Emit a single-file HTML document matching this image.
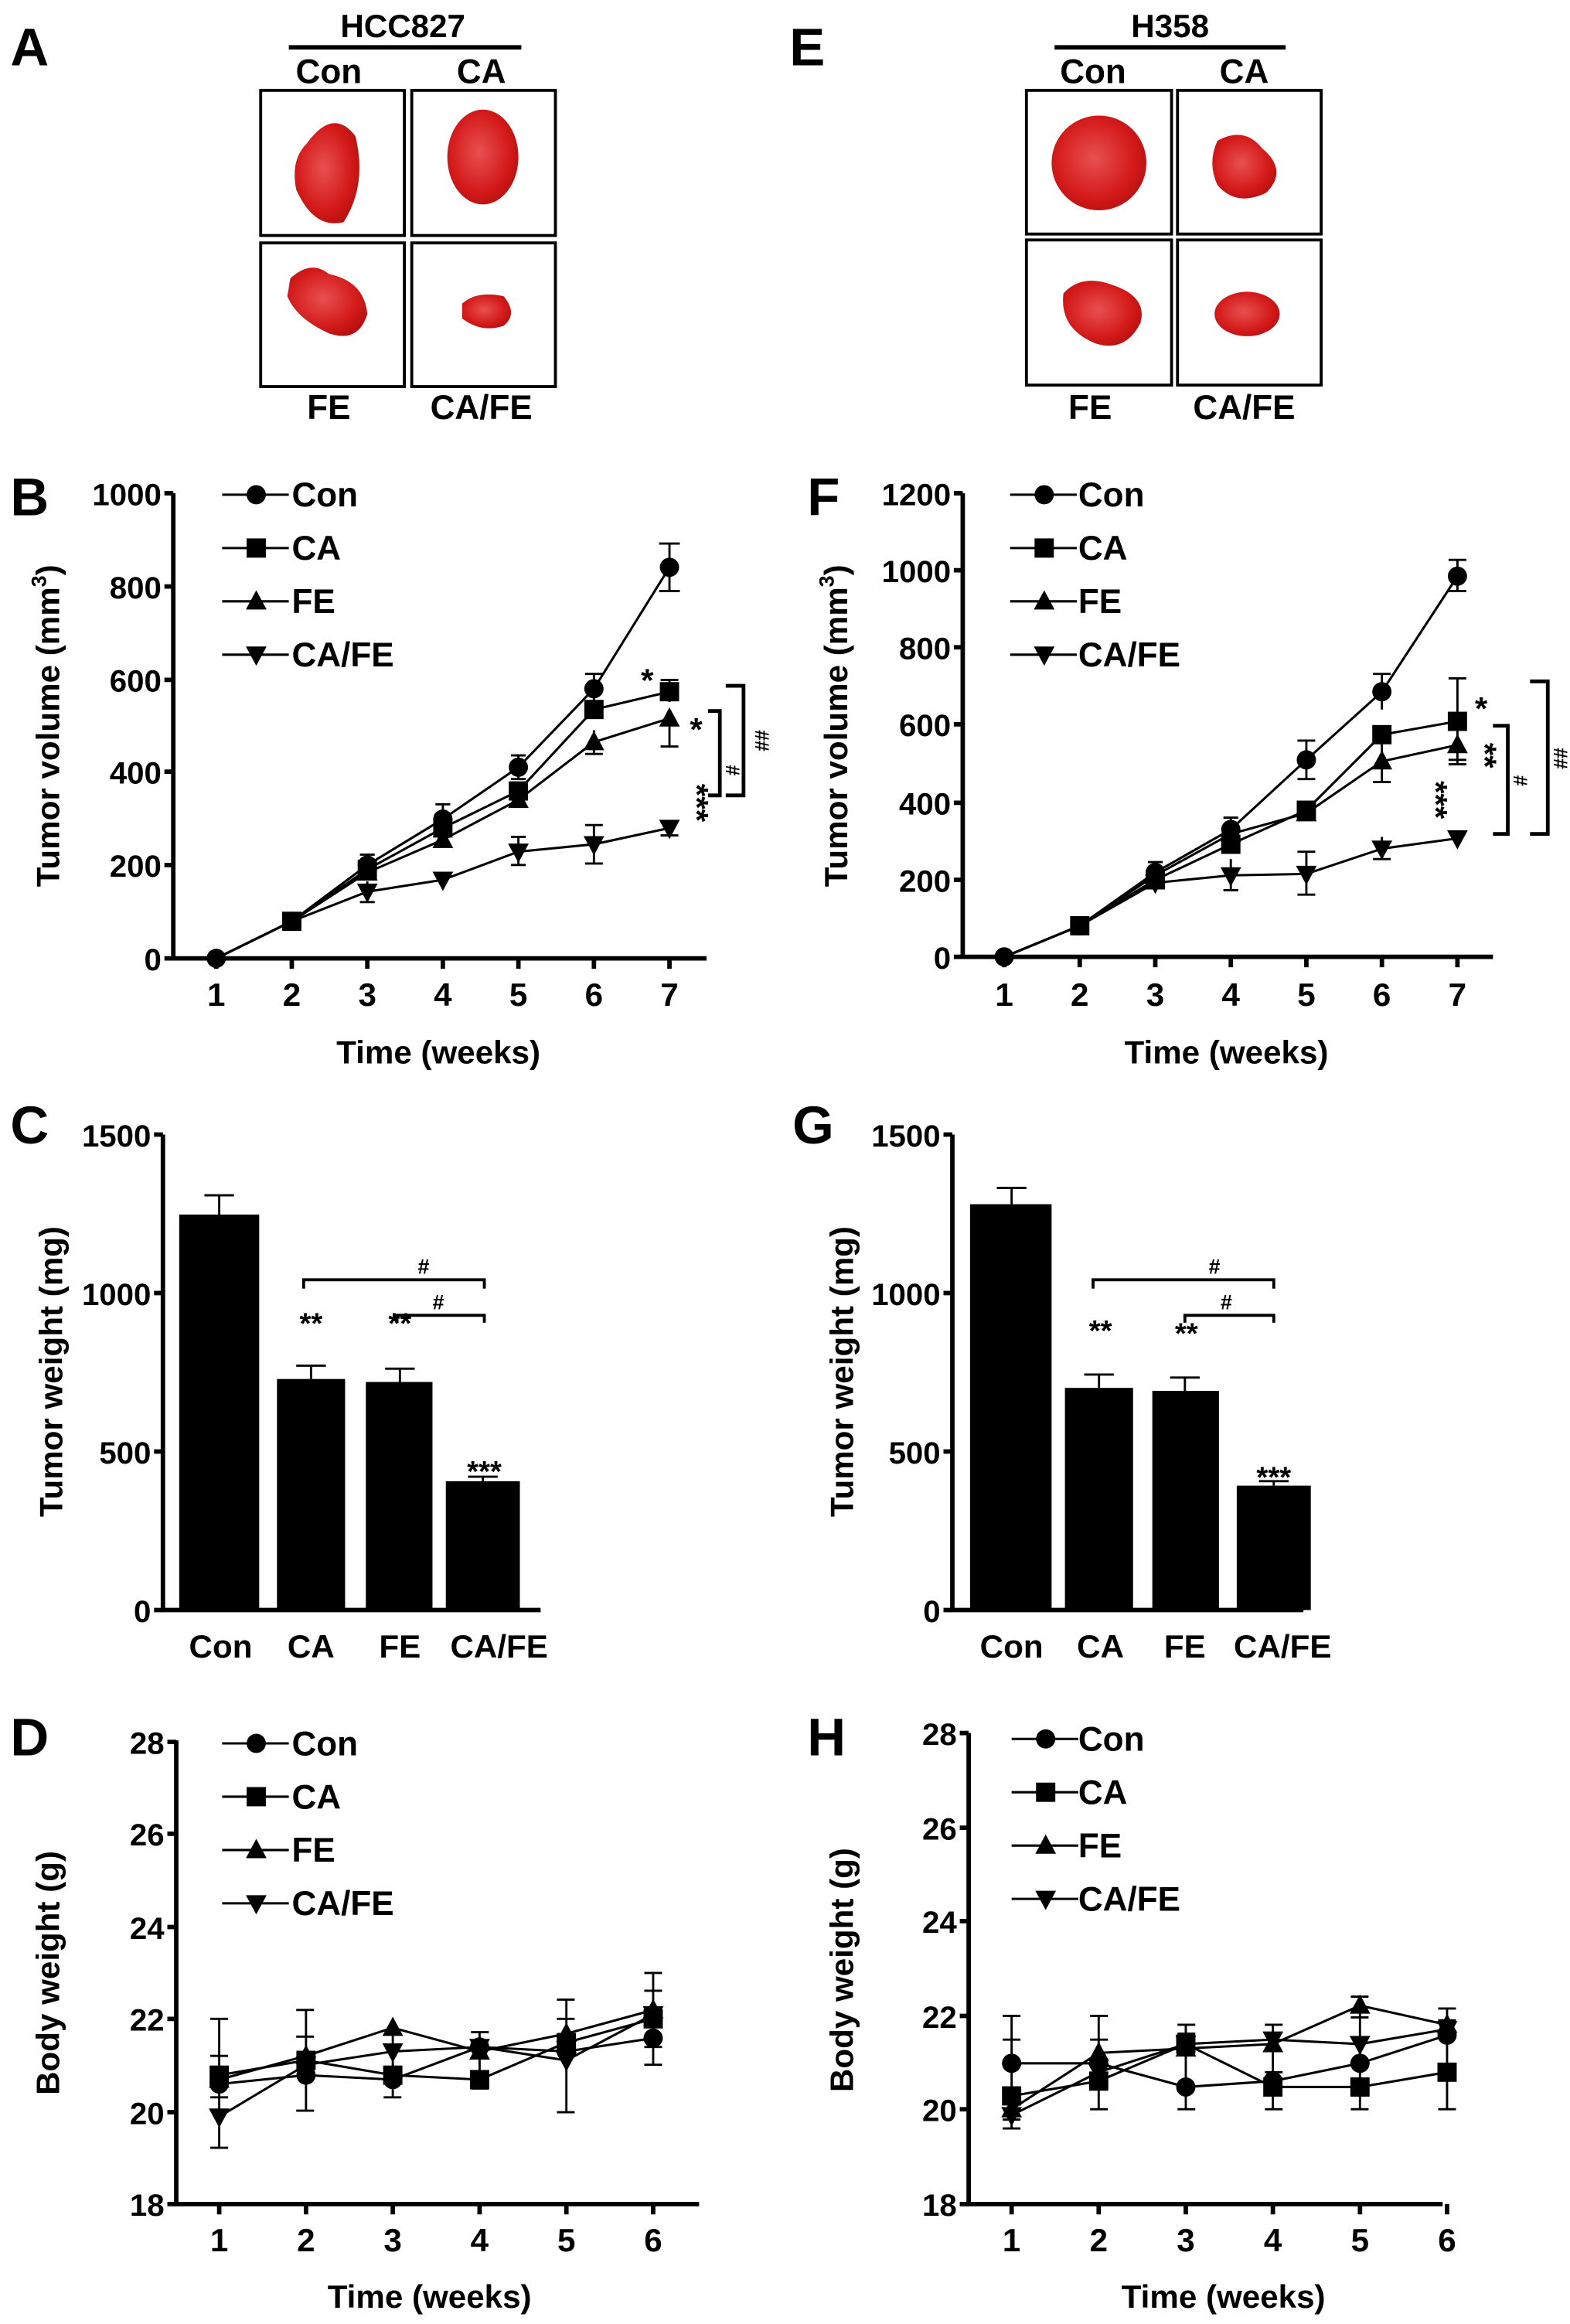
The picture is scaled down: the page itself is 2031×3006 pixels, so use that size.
<!DOCTYPE html>
<html><head><meta charset="utf-8"><style>
html,body{margin:0;padding:0;background:#fff;}
svg{display:block;}
text{font-family:"Liberation Sans",Arial,sans-serif;font-weight:bold;fill:#000;}
.t{font-size:21px;text-anchor:end;}
.x{font-size:22px;text-anchor:middle;}
.lg{font-size:23px;}
.P{font-size:36px;}
.ax{stroke:#000;stroke-width:3;fill:none;}
.ln{stroke:#000;stroke-width:1.6;fill:none;}
.eb{stroke:#000;stroke-width:1.5;fill:none;}
</style></head><body>
<svg width="2031" height="3006" viewBox="0 0 1060 1569" preserveAspectRatio="none" xmlns="http://www.w3.org/2000/svg">
<defs>
<circle id="c" r="6.5" fill="#000"/>
<rect id="s" x="-6.5" y="-6.5" width="13" height="13" fill="#000"/>
<polygon id="u" points="0,-7.5 7,5.5 -7,5.5" fill="#000"/>
<polygon id="d" points="0,7.5 7,-5.5 -7,-5.5" fill="#000"/>
<radialGradient id="tm" cx="0.45" cy="0.45" r="0.6"><stop offset="0" stop-color="#e85050"/><stop offset="0.7" stop-color="#d41a1a"/><stop offset="1" stop-color="#b81010"/></radialGradient>
</defs>

<!-- Panel A -->
<text class="P" x="7" y="44">A</text>
<text x="272" y="25" font-size="22" text-anchor="middle">HCC827</text>
<line x1="195" y1="32" x2="352" y2="32" stroke="#000" stroke-width="3"/>
<text x="222" y="56" font-size="23" text-anchor="middle">Con</text>
<text x="325" y="56" font-size="23" text-anchor="middle">CA</text>
<rect x="176" y="61" width="97" height="98" fill="#fff" stroke="#000" stroke-width="2"/>
<rect x="278" y="61" width="97" height="98" fill="#fff" stroke="#000" stroke-width="2"/>
<rect x="176" y="164" width="97" height="97" fill="#fff" stroke="#000" stroke-width="2"/>
<rect x="278" y="164" width="97" height="97" fill="#fff" stroke="#000" stroke-width="2"/>
<path d="M207,97 Q225,72 240,92 Q248,125 232,150 Q212,155 200,128 Q196,108 207,97Z" fill="url(#tm)"/>
<ellipse cx="326" cy="106" rx="24" ry="32" fill="url(#tm)"/>
<path d="M196,188 Q210,175 222,185 Q246,190 248,212 Q242,232 222,225 Q200,215 194,200Z" fill="url(#tm)"/>
<path d="M312,205 Q322,196 340,200 Q350,212 340,220 Q325,225 312,215Z" fill="url(#tm)"/>
<text x="222" y="283" font-size="23" text-anchor="middle">FE</text>
<text x="325" y="283" font-size="23" text-anchor="middle">CA/FE</text>

<!-- Panel E -->
<text class="P" x="533" y="44">E</text>
<text x="790" y="25" font-size="22" text-anchor="middle">H358</text>
<line x1="712" y1="32" x2="868" y2="32" stroke="#000" stroke-width="3"/>
<text x="738" y="56" font-size="23" text-anchor="middle">Con</text>
<text x="840" y="56" font-size="23" text-anchor="middle">CA</text>
<rect x="693" y="61" width="98" height="97" fill="#fff" stroke="#000" stroke-width="2"/>
<rect x="795" y="61" width="97" height="97" fill="#fff" stroke="#000" stroke-width="2"/>
<rect x="693" y="162" width="98" height="98" fill="#fff" stroke="#000" stroke-width="2"/>
<rect x="795" y="162" width="97" height="98" fill="#fff" stroke="#000" stroke-width="2"/>
<ellipse cx="742" cy="110" rx="32" ry="32" fill="url(#tm)"/>
<path d="M822,95 Q840,85 852,100 Q870,115 855,130 Q835,140 822,125 Q815,110 822,95Z" fill="url(#tm)"/>
<path d="M718,198 Q730,185 750,192 Q775,200 770,218 Q760,238 740,232 Q715,222 718,198Z" fill="url(#tm)"/>
<ellipse cx="842" cy="212" rx="22" ry="15" fill="url(#tm)"/>
<text x="736" y="283" font-size="23" text-anchor="middle">FE</text>
<text x="840" y="283" font-size="23" text-anchor="middle">CA/FE</text>

<!-- Panel B -->
<text class="P" x="7" y="348">B</text>
<text transform="translate(40,490) rotate(-90)" font-size="22" text-anchor="middle">Tumor volume (mm<tspan font-size="14" dy="-9">3</tspan><tspan dy="9">)</tspan></text>
<path class="ax" d="M117,333 V647 H477"/>
<path class="ax" d="M111,333H117M111,396H117M111,459H117M111,521H117M111,584H117M111,647H117"/>
<path class="ax" d="M146,647v7M197,647v7M248,647v7M299,647v7M350,647v7M401,647v7M452,647v7"/>
<text class="t" x="109" y="341">1000</text><text class="t" x="109" y="404">800</text><text class="t" x="109" y="467">600</text><text class="t" x="109" y="529">400</text><text class="t" x="109" y="592">200</text><text class="t" x="109" y="655">0</text>
<text class="x" x="146" y="679">1</text><text class="x" x="197" y="679">2</text><text class="x" x="248" y="679">3</text><text class="x" x="299" y="679">4</text><text class="x" x="350" y="679">5</text><text class="x" x="401" y="679">6</text><text class="x" x="452" y="679">7</text>
<text x="296" y="718" font-size="22" text-anchor="middle">Time (weeks)</text>
<path class="eb" d="M452,367V399M445,367h14M445,399h14 M401,455V475M395,455h12M395,475h12 M350,510V526M345,510h10M345,526h10 M299,543V563M294,543h10M294,563h10 M248,577V591M243,577h10 M452,459V474M446,459h12 M452,485V504M446,504h12 M401,493V509M395,509h12 M401,557V583M395,557h12M395,583h12 M350,565V584M345,565h10M345,584h10 M248,595V609M243,609h10 M452,555V564M446,564h12"/>
<polyline class="ln" points="146,647 197,622 248,584 299,553 350,518 401,465 452,383"/>
<polyline class="ln" points="146,647 197,622 248,587 299,559 350,534 401,479 452,467"/>
<polyline class="ln" points="146,647 197,622 248,589 299,567 350,540 401,501 452,485"/>
<polyline class="ln" points="146,647 197,622 248,602 299,594 350,575 401,570 452,559"/>
<g><use href="#c" x="146" y="647"/><use href="#c" x="197" y="622"/><use href="#c" x="248" y="584"/><use href="#c" x="299" y="553"/><use href="#c" x="350" y="518"/><use href="#c" x="401" y="465"/><use href="#c" x="452" y="383"/>
<use href="#s" x="197" y="622"/><use href="#s" x="248" y="587"/><use href="#s" x="299" y="559"/><use href="#s" x="350" y="534"/><use href="#s" x="401" y="479"/><use href="#s" x="452" y="467"/>
<use href="#u" x="248" y="589"/><use href="#u" x="299" y="567"/><use href="#u" x="350" y="540"/><use href="#u" x="401" y="501"/><use href="#u" x="452" y="485"/>
<use href="#d" x="248" y="602"/><use href="#d" x="299" y="594"/><use href="#d" x="350" y="575"/><use href="#d" x="401" y="570"/><use href="#d" x="452" y="559"/></g>
<text x="437" y="467" font-size="22" text-anchor="middle">*</text>
<text x="470" y="500" font-size="22" text-anchor="middle">*</text>
<text transform="translate(463,542) rotate(90)" font-size="22" text-anchor="middle">***</text>
<path d="M478,480H486V537H478 M490,463H502V537H490" stroke="#000" stroke-width="2.5" fill="none"/>
<text transform="translate(490,520) rotate(90)" font-size="13" text-anchor="middle">#</text>
<text transform="translate(510,500) rotate(90)" font-size="13" text-anchor="middle">##</text>
<use href="#c" x="173" y="334"/><line x1="150" y1="334" x2="195" y2="334" stroke="#000" stroke-width="1.6"/>
<use href="#s" x="173" y="370"/><line x1="150" y1="370" x2="195" y2="370" stroke="#000" stroke-width="1.6"/>
<use href="#u" x="173" y="406"/><line x1="150" y1="406" x2="195" y2="406" stroke="#000" stroke-width="1.6"/>
<use href="#d" x="173" y="442"/><line x1="150" y1="442" x2="195" y2="442" stroke="#000" stroke-width="1.6"/>
<text class="lg" x="197" y="342">Con</text><text class="lg" x="197" y="378">CA</text><text class="lg" x="197" y="414">FE</text><text class="lg" x="197" y="450">CA/FE</text>

<!-- Panel F -->
<text class="P" x="545" y="348">F</text>
<text transform="translate(572,490) rotate(-90)" font-size="22" text-anchor="middle">Tumor volume (mm<tspan font-size="14" dy="-9">3</tspan><tspan dy="9">)</tspan></text>
<path class="ax" d="M650,333 V646 H1008"/>
<path class="ax" d="M644,333H650M644,385H650M644,437H650M644,489H650M644,542H650M644,594H650M644,646H650"/>
<path class="ax" d="M678,646v7M729,646v7M780,646v7M831,646v7M882,646v7M933,646v7M984,646v7"/>
<text class="t" x="642" y="341">1200</text><text class="t" x="642" y="393">1000</text><text class="t" x="642" y="445">800</text><text class="t" x="642" y="497">600</text><text class="t" x="642" y="550">400</text><text class="t" x="642" y="602">200</text><text class="t" x="642" y="654">0</text>
<text class="x" x="678" y="679">1</text><text class="x" x="729" y="679">2</text><text class="x" x="780" y="679">3</text><text class="x" x="831" y="679">4</text><text class="x" x="882" y="679">5</text><text class="x" x="933" y="679">6</text><text class="x" x="984" y="679">7</text>
<text x="828" y="718" font-size="22" text-anchor="middle">Time (weeks)</text>
<path class="eb" d="M984,378V399M978,378h12M978,399h12 M933,455V479M927,455h12 M882,500V526M876,500h12M876,526h12 M831,552V568M826,552h10 M780,582V596M775,582h10 M984,458V516M978,458h12M978,516h12 M933,500V528M927,528h12 M984,492V513M978,513h12 M882,575V604M876,575h12M876,604h12 M831,580V601M826,601h10 M933,565V580M927,580h12"/>
<polyline class="ln" points="678,646 729,625 780,589 831,560 882,513 933,467 984,389"/>
<polyline class="ln" points="678,646 729,625 780,594 831,570 882,547 933,496 984,487"/>
<polyline class="ln" points="678,646 729,625 780,591 831,563 882,549 933,514 984,503"/>
<polyline class="ln" points="678,646 729,625 780,596 831,591 882,590 933,573 984,566"/>
<g><use href="#c" x="678" y="646"/><use href="#c" x="729" y="625"/><use href="#c" x="780" y="589"/><use href="#c" x="831" y="560"/><use href="#c" x="882" y="513"/><use href="#c" x="933" y="467"/><use href="#c" x="984" y="389"/>
<use href="#s" x="729" y="625"/><use href="#s" x="780" y="594"/><use href="#s" x="831" y="570"/><use href="#s" x="882" y="547"/><use href="#s" x="933" y="496"/><use href="#s" x="984" y="487"/>
<use href="#u" x="780" y="591"/><use href="#u" x="831" y="563"/><use href="#u" x="882" y="549"/><use href="#u" x="933" y="514"/><use href="#u" x="984" y="503"/>
<use href="#d" x="780" y="596"/><use href="#d" x="831" y="591"/><use href="#d" x="882" y="590"/><use href="#d" x="933" y="573"/><use href="#d" x="984" y="566"/></g>
<text x="1000" y="486" font-size="22" text-anchor="middle">*</text>
<text transform="translate(995,510) rotate(90)" font-size="22" text-anchor="middle">**</text>
<text transform="translate(962,540) rotate(90)" font-size="22" text-anchor="middle">***</text>
<path d="M1008,490H1018V563H1008 M1033,460H1045V563H1033" stroke="#000" stroke-width="2.5" fill="none"/>
<text transform="translate(1022,527) rotate(90)" font-size="13" text-anchor="middle">#</text>
<text transform="translate(1049,512) rotate(90)" font-size="13" text-anchor="middle">##</text>
<use href="#c" x="705" y="334"/><line x1="682" y1="334" x2="727" y2="334" stroke="#000" stroke-width="1.6"/>
<use href="#s" x="705" y="370"/><line x1="682" y1="370" x2="727" y2="370" stroke="#000" stroke-width="1.6"/>
<use href="#u" x="705" y="406"/><line x1="682" y1="406" x2="727" y2="406" stroke="#000" stroke-width="1.6"/>
<use href="#d" x="705" y="442"/><line x1="682" y1="442" x2="727" y2="442" stroke="#000" stroke-width="1.6"/>
<text class="lg" x="728" y="342">Con</text><text class="lg" x="728" y="378">CA</text><text class="lg" x="728" y="414">FE</text><text class="lg" x="728" y="450">CA/FE</text>

<!-- Panel C -->
<text class="P" x="7" y="772">C</text>
<text transform="translate(42,926) rotate(-90)" font-size="22" text-anchor="middle">Tumor weight (mg)</text>
<path class="ax" d="M110,766 V1087 H365"/>
<path class="ax" d="M104,766H110M104,873H110M104,980H110M104,1087H110"/>
<text class="t" x="102" y="774">1500</text><text class="t" x="102" y="881">1000</text><text class="t" x="102" y="988">500</text><text class="t" x="102" y="1095">0</text>
<rect x="121" y="820" width="54" height="267" fill="#000"/>
<rect x="187" y="931" width="46" height="156" fill="#000"/>
<rect x="247" y="933" width="45" height="154" fill="#000"/>
<rect x="301" y="1000" width="50" height="87" fill="#000"/>
<path class="eb" stroke-width="2" d="M148,807V820M138,807h20 M210,922V931M200,922h20 M270,924V933M260,924h20 M326,997V1000M316,997h20"/>
<text class="x" x="149" y="1119">Con</text><text class="x" x="210" y="1119">CA</text><text class="x" x="270" y="1119">FE</text><text class="x" x="337" y="1119">CA/FE</text>
<text x="210" y="900" font-size="20" text-anchor="middle">**</text>
<text x="270" y="900" font-size="20" text-anchor="middle">**</text>
<text x="327" y="1000" font-size="20" text-anchor="middle">***</text>
<path d="M205,870V864H327V870 M268,893V888H327V893" stroke="#000" stroke-width="2" fill="none"/>
<text x="286" y="860" font-size="14" text-anchor="middle" font-weight="normal">#</text>
<text x="296" y="884" font-size="14" text-anchor="middle" font-weight="normal">#</text>

<!-- Panel G -->
<text class="P" x="535" y="772">G</text>
<text transform="translate(576,926) rotate(-90)" font-size="22" text-anchor="middle">Tumor weight (mg)</text>
<path class="ax" d="M643,766 V1087 H880"/>
<path class="ax" d="M637,766H643M637,873H643M637,980H643M637,1087H643"/>
<text class="t" x="635" y="774">1500</text><text class="t" x="635" y="881">1000</text><text class="t" x="635" y="988">500</text><text class="t" x="635" y="1095">0</text>
<rect x="655" y="813" width="55" height="274" fill="#000"/>
<rect x="719" y="937" width="46" height="150" fill="#000"/>
<rect x="778" y="939" width="45" height="148" fill="#000"/>
<rect x="835" y="1003" width="50" height="84" fill="#000"/>
<path class="eb" stroke-width="2" d="M683,802V813M673,802h20 M742,928V937M732,928h20 M800,930V939M790,930h20 M860,1000V1003M850,1000h20"/>
<text class="x" x="683" y="1119">Con</text><text class="x" x="743" y="1119">CA</text><text class="x" x="800" y="1119">FE</text><text class="x" x="866" y="1119">CA/FE</text>
<text x="743" y="905" font-size="20" text-anchor="middle">**</text>
<text x="801" y="907" font-size="20" text-anchor="middle">**</text>
<text x="860" y="1004" font-size="20" text-anchor="middle">***</text>
<path d="M738,870V864H860V870 M800,893V888H860V893" stroke="#000" stroke-width="2" fill="none"/>
<text x="820" y="860" font-size="14" text-anchor="middle" font-weight="normal">#</text>
<text x="828" y="884" font-size="14" text-anchor="middle" font-weight="normal">#</text>

<!-- Panel D -->
<text class="P" x="7" y="1185">D</text>
<text transform="translate(40,1332) rotate(-90)" font-size="22" text-anchor="middle">Body weight (g)</text>
<path class="ax" d="M119,1175 V1488 H472"/>
<path class="ax" d="M113,1176H119M113,1238H119M113,1301H119M113,1363H119M113,1426H119M113,1488H119"/>
<path class="ax" d="M148,1488v7M206.6,1488v7M265.2,1488v7M323.8,1488v7M382.4,1488v7M441,1488v7"/>
<text class="t" x="111" y="1184">28</text><text class="t" x="111" y="1246">26</text><text class="t" x="111" y="1309">24</text><text class="t" x="111" y="1371">22</text><text class="t" x="111" y="1434">20</text><text class="t" x="111" y="1496">18</text>
<text class="x" x="148" y="1520">1</text><text class="x" x="206.6" y="1520">2</text><text class="x" x="265.2" y="1520">3</text><text class="x" x="323.8" y="1520">4</text><text class="x" x="382.4" y="1520">5</text><text class="x" x="441" y="1520">6</text>
<text x="290" y="1558" font-size="22" text-anchor="middle">Time (weeks)</text>
<path class="eb" d="M148,1363V1450M142,1363h12M142,1450h12M142,1388h12M142,1416h12 M206.6,1357V1425M200,1357h12M200,1425h12M200,1375h12 M265.2,1363V1416M259,1416h12M259,1400h12 M323.8,1372V1410M318,1372h12M318,1410h12 M382.4,1350V1426M376,1350h12M376,1426h12M376,1363h12 M441,1332V1394M435,1332h12M435,1394h12M435,1344h12M435,1382h12"/>
<polyline class="ln" points="148,1407 206.6,1401 265.2,1404 323.8,1382 382.4,1385 441,1376"/>
<polyline class="ln" points="148,1401 206.6,1391 265.2,1401 323.8,1404 382.4,1379 441,1363"/>
<polyline class="ln" points="148,1404 206.6,1388 265.2,1369 323.8,1385 382.4,1373 441,1357"/>
<polyline class="ln" points="148,1429 206.6,1394 265.2,1385 323.8,1382 382.4,1391 441,1360"/>
<g><use href="#c" x="148" y="1407"/><use href="#c" x="206.6" y="1401"/><use href="#c" x="265.2" y="1404"/><use href="#c" x="323.8" y="1382"/><use href="#c" x="382.4" y="1385"/><use href="#c" x="441" y="1376"/>
<use href="#s" x="148" y="1401"/><use href="#s" x="206.6" y="1391"/><use href="#s" x="265.2" y="1401"/><use href="#s" x="323.8" y="1404"/><use href="#s" x="382.4" y="1379"/><use href="#s" x="441" y="1363"/>
<use href="#u" x="148" y="1404"/><use href="#u" x="206.6" y="1388"/><use href="#u" x="265.2" y="1369"/><use href="#u" x="323.8" y="1385"/><use href="#u" x="382.4" y="1373"/><use href="#u" x="441" y="1357"/>
<use href="#d" x="148" y="1429"/><use href="#d" x="206.6" y="1394"/><use href="#d" x="265.2" y="1385"/><use href="#d" x="323.8" y="1382"/><use href="#d" x="382.4" y="1391"/><use href="#d" x="441" y="1360"/></g>
<use href="#c" x="173" y="1177"/><line x1="150" y1="1177" x2="195" y2="1177" stroke="#000" stroke-width="1.6"/>
<use href="#s" x="173" y="1213"/><line x1="150" y1="1213" x2="195" y2="1213" stroke="#000" stroke-width="1.6"/>
<use href="#u" x="173" y="1249"/><line x1="150" y1="1249" x2="195" y2="1249" stroke="#000" stroke-width="1.6"/>
<use href="#d" x="173" y="1285"/><line x1="150" y1="1285" x2="195" y2="1285" stroke="#000" stroke-width="1.6"/>
<text class="lg" x="197" y="1185">Con</text><text class="lg" x="197" y="1221">CA</text><text class="lg" x="197" y="1257">FE</text><text class="lg" x="197" y="1293">CA/FE</text>

<!-- Panel H -->
<text class="P" x="545" y="1185">H</text>
<text transform="translate(576,1330) rotate(-90)" font-size="22" text-anchor="middle">Body weight (g)</text>
<path class="ax" d="M654,1170 V1488 H974"/>
<path class="ax" d="M648,1170H654M648,1234H654M648,1297H654M648,1361H654M648,1424H654M648,1488H654"/>
<path class="ax" d="M683,1488v7M741.8,1488v7M800.6,1488v7M859.4,1488v7M918.2,1488v7M977,1488v7"/>
<text class="t" x="646" y="1178">28</text><text class="t" x="646" y="1242">26</text><text class="t" x="646" y="1305">24</text><text class="t" x="646" y="1369">22</text><text class="t" x="646" y="1432">20</text><text class="t" x="646" y="1496">18</text>
<text class="x" x="683" y="1520">1</text><text class="x" x="741.8" y="1520">2</text><text class="x" x="800.6" y="1520">3</text><text class="x" x="859.4" y="1520">4</text><text class="x" x="918.2" y="1520">5</text><text class="x" x="977" y="1520">6</text>
<text x="826" y="1558" font-size="22" text-anchor="middle">Time (weeks)</text>
<path class="eb" d="M683,1361V1437M677,1361h12M677,1437h12M677,1377h12M677,1431h12 M741.8,1361V1424M736,1361h12M736,1424h12M736,1377h12 M800.6,1367V1424M795,1367h12M795,1424h12M795,1373h12 M859.4,1367V1424M854,1367h12M854,1424h12M854,1399h12 M918.2,1348V1424M912,1348h12M912,1424h12M912,1362h12 M977,1356V1424M971,1356h12M971,1424h12M971,1364h12"/>
<polyline class="ln" points="683,1393 741.8,1393 800.6,1409 859.4,1405 918.2,1393 977,1374"/>
<polyline class="ln" points="683,1415 741.8,1405 800.6,1380 859.4,1409 918.2,1409 977,1399"/>
<polyline class="ln" points="683,1424 741.8,1386 800.6,1383 859.4,1380 918.2,1354 977,1367"/>
<polyline class="ln" points="683,1428 741.8,1399 800.6,1380 859.4,1377 918.2,1380 977,1370"/>
<g><use href="#c" x="683" y="1393"/><use href="#c" x="741.8" y="1393"/><use href="#c" x="800.6" y="1409"/><use href="#c" x="859.4" y="1405"/><use href="#c" x="918.2" y="1393"/><use href="#c" x="977" y="1374"/>
<use href="#s" x="683" y="1415"/><use href="#s" x="741.8" y="1405"/><use href="#s" x="800.6" y="1380"/><use href="#s" x="859.4" y="1409"/><use href="#s" x="918.2" y="1409"/><use href="#s" x="977" y="1399"/>
<use href="#u" x="683" y="1424"/><use href="#u" x="741.8" y="1386"/><use href="#u" x="800.6" y="1383"/><use href="#u" x="859.4" y="1380"/><use href="#u" x="918.2" y="1354"/><use href="#u" x="977" y="1367"/>
<use href="#d" x="683" y="1428"/><use href="#d" x="741.8" y="1399"/><use href="#d" x="800.6" y="1380"/><use href="#d" x="859.4" y="1377"/><use href="#d" x="918.2" y="1380"/><use href="#d" x="977" y="1370"/></g>
<use href="#c" x="706" y="1174"/><line x1="683" y1="1174" x2="728" y2="1174" stroke="#000" stroke-width="1.6"/>
<use href="#s" x="706" y="1210"/><line x1="683" y1="1210" x2="728" y2="1210" stroke="#000" stroke-width="1.6"/>
<use href="#u" x="706" y="1246"/><line x1="683" y1="1246" x2="728" y2="1246" stroke="#000" stroke-width="1.6"/>
<use href="#d" x="706" y="1282"/><line x1="683" y1="1282" x2="728" y2="1282" stroke="#000" stroke-width="1.6"/>
<text class="lg" x="728" y="1182">Con</text><text class="lg" x="728" y="1218">CA</text><text class="lg" x="728" y="1254">FE</text><text class="lg" x="728" y="1290">CA/FE</text>
</svg>
</body></html>
